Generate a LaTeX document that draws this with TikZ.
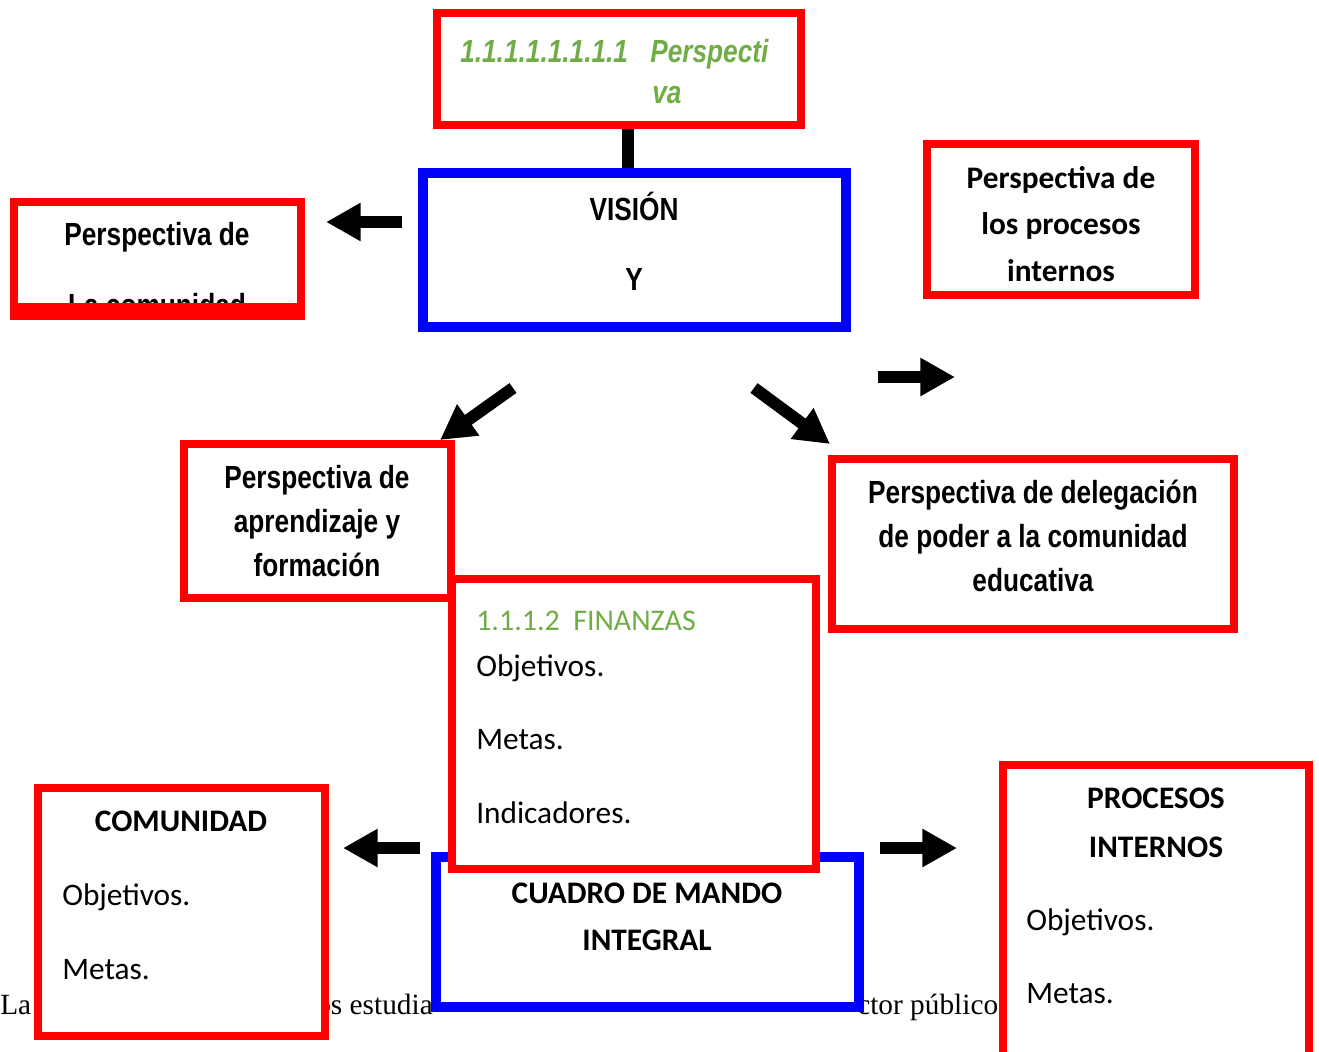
\documentclass[tikz,border=0pt]{standalone}
\usepackage{xcolor}
\usepackage{fontspec}
\setmainfont{Liberation Serif}
\newfontfamily\fuenteestrecha[FakeStretch=0.82]{Liberation Sans}
\newfontfamily\fuentecalibri{Carlito}
\usetikzlibrary{arrows.meta}
\definecolor{verdetitulo}{RGB}{112,173,71}
\tikzset{
  cajaroja/.style={draw=red, line width=6pt, fill=white, inner sep=0pt},
  cajaazul/.style={draw=blue, line width=7.5pt, fill=white, inner sep=0pt},
  flecha/.style={line width=9pt, -{Triangle[length=26pt,width=27pt]}},
  titulo/.style={font=\fuenteestrecha\bfseries\fontsize{24}{29}\selectfont, inner sep=0pt, anchor=base},
  texto/.style={font=\fuentecalibri\fontsize{23.5}{28}\selectfont, inner sep=0pt, anchor=base west},
  negrita/.style={font=\fuentecalibri\bfseries\fontsize{23.5}{28}\selectfont, inner sep=0pt, anchor=base},
  fondo/.style={font=\fontsize{22}{26}\selectfont, inner sep=0pt, anchor=base west}
}

\begin{document}
\begin{tikzpicture}[x=0.75pt, y=-0.75pt]
      \useasboundingbox (0,0) rectangle (1319,1051);
      \fill[white] (0,0) rectangle (1319,1051);

      % Texto del documento (detras de las cajas)
      \node[fondo] (fondo1) at (0,1014) {La c};
      \node[fondo] (fondo2) at (316,1014) {os estudia};
      \node[fondo] (fondo3) at (857,1014) {ctor público};

      % Cajas
      \node[cajaroja, minimum width=273pt, minimum height=84pt] (titulo) at (619,69) {};
      \node[cajaazul, minimum width=317.25pt, minimum height=115.5pt] (vision) at (634.5,250) {};
      \node[cajaroja, minimum width=215.25pt, minimum height=85.5pt] (comunidad) at (157.5,259) {};
      \node[cajaroja, minimum width=201pt, minimum height=113.25pt] (procesos) at (1061,219.5) {};
      \node[cajaroja, minimum width=200.25pt, minimum height=115.5pt] (aprendizaje) at (317.5,521) {};
      \node[cajaroja, minimum width=301.5pt, minimum height=127.5pt] (delegacion) at (1033,544) {};
      \node[cajaazul, minimum width=317.25pt, minimum height=112.5pt] (cuadro) at (647.5,932) {};
      \node[cajaroja, minimum width=273pt, minimum height=217.5pt] (finanzas) at (634,724) {};
      \node[cajaroja, minimum width=215.25pt, minimum height=186pt] (comunidadobj) at (181.5,912) {};
      \node[cajaroja, minimum width=229.5pt, minimum height=219pt] (procesosobj) at (1156,911) {};

      % Textos
      \node[titulo, anchor=base west, font=\fuenteestrecha\bfseries\itshape\fontsize{24}{29}\selectfont, text=verdetitulo] (titulo-num) at (460,62) {1.1.1.1.1.1.1.1};
      \node[titulo, anchor=base west, font=\fuenteestrecha\bfseries\itshape\fontsize{24}{29}\selectfont, text=verdetitulo] (titulo-l1) at (650,62) {Perspecti};
      \node[titulo, anchor=base west, font=\fuenteestrecha\bfseries\itshape\fontsize{24}{29}\selectfont, text=verdetitulo] (titulo-l2) at (652,103) {va};

      \node[titulo] (vision-l1) at (634,220) {VISIÓN};
      \node[titulo] (vision-l2) at (634,290) {Y};

      \node[titulo] (comunidad-l1) at (157,245) {Perspectiva de};
      \begin{scope}
        \clip (18,206) rectangle (297,303);
        \node[titulo] (comunidad-l2) at (157,316) {La comunidad};
      \end{scope}
      \fill[red] (14,303) rectangle (301,313);

      \node[negrita] (procesos-l1) at (1061,188) {Perspectiva de};
      \node[negrita] (procesos-l2) at (1061,234) {los procesos};
      \node[negrita] (procesos-l3) at (1061,281) {internos};

      \node[titulo] (aprendizaje-l1) at (317,488) {Perspectiva de};
      \node[titulo] (aprendizaje-l2) at (317,532) {aprendizaje y};
      \node[titulo] (aprendizaje-l3) at (317,576) {formación};

      \node[titulo] (delegacion-l1) at (1033,503) {Perspectiva de delegación};
      \node[titulo] (delegacion-l2) at (1033,547) {de poder a la comunidad};
      \node[titulo] (delegacion-l3) at (1033,591) {educativa};

      \node[texto, font=\fuentecalibri\fontsize{22.5}{28}\selectfont, text=verdetitulo] (finanzas-l1) at (476,630) {1.1.1.2\hspace{0.45em}FINANZAS};
      \node[texto] (finanzas-l2) at (476,676) {Objetivos.};
      \node[texto] (finanzas-l3) at (476,749) {Metas.};
      \node[texto] (finanzas-l4) at (476,823) {Indicadores.};

      \node[negrita] (cuadro-l1) at (647,903) {CUADRO DE MANDO};
      \node[negrita] (cuadro-l2) at (647,950) {INTEGRAL};

      \node[negrita] (comunidadobj-l1) at (181,831) {COMUNIDAD};
      \node[texto] (comunidadobj-l2) at (62,905) {Objetivos.};
      \node[texto] (comunidadobj-l3) at (62,979) {Metas.};

      \node[negrita] (procesosobj-l1) at (1156,808) {PROCESOS};
      \node[negrita] (procesosobj-l2) at (1156,857) {INTERNOS};
      \node[texto] (procesosobj-l3) at (1026,930) {Objetivos.};
      \node[texto] (procesosobj-l4) at (1026,1003) {Metas.};

      % Conector y flechas
      \draw[line width=9pt] ([xshift=7pt]titulo.south) -- ([xshift=7pt]titulo.south |- vision.north);

      \coordinate (f1a) at (402,222);  \coordinate (f1b) at (326,222);
      \coordinate (f2a) at (878,377);  \coordinate (f2b) at (955,377);
      \coordinate (f3a) at (513,388);  \coordinate (f3b) at (440,440);
      \coordinate (f4a) at (754,388);  \coordinate (f4b) at (830,444);
      \coordinate (f5a) at (420,848);  \coordinate (f5b) at (343,848);
      \coordinate (f6a) at (880,848);  \coordinate (f6b) at (957,848);
      \draw[flecha] (f1a) -- (f1b);
      \draw[flecha] (f2a) -- (f2b);
      \draw[flecha] (f3a) -- (f3b);
      \draw[flecha] (f4a) -- (f4b);
      \draw[flecha] (f5a) -- (f5b);
      \draw[flecha] (f6a) -- (f6b);
    \end{tikzpicture}
\end{document}
